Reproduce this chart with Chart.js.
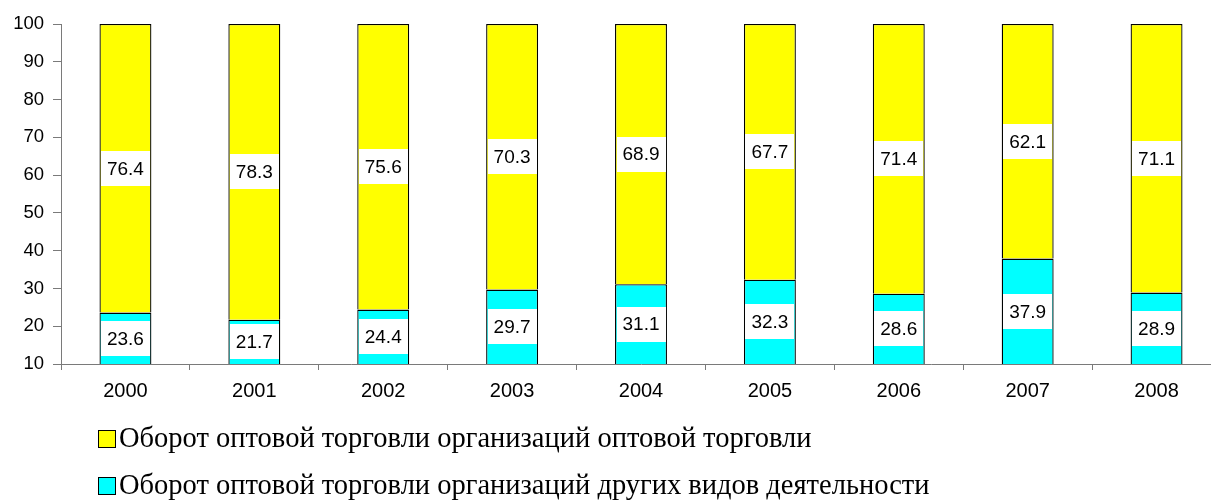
<!DOCTYPE html>
<html>
<head>
<meta charset="utf-8">
<script src="https://cdn.jsdelivr.net/npm/chart.js@4.4.1/dist/chart.umd.min.js"></script>
<style>
  html, body { margin: 0; padding: 0; background: #fff; overflow: hidden; }
  #wrap { width: 1211px; height: 500px; overflow: hidden; }
  canvas { display: block; }
</style>
</head>
<body>
<div id="wrap"><canvas id="c" width="1225" height="500"></canvas></div>
<script>
const years = ['2000', '2001', '2002', '2003', '2004', '2005', '2006', '2007', '2008'];
const otherOrgValues = [23.6, 21.7, 24.4, 29.7, 31.1, 32.3, 28.6, 37.9, 28.9];
const wholesaleOrgValues = [76.4, 78.3, 75.6, 70.3, 68.9, 67.7, 71.4, 62.1, 71.1];
const seriesNames = [
  'Оборот оптовой торговли организаций других видов деятельности',
  'Оборот оптовой торговли организаций оптовой торговли'
];
const yTicks = [10, 20, 30, 40, 50, 60, 70, 80, 90, 100];

const AXIS_COLOR = '#7a7a7a';

const labelBoxes = {
  id: 'labelBoxes',
  afterDatasetsDraw(chart) {
    const ctx = chart.ctx;
    const area = chart.chartArea;
    ctx.save();
    ctx.font = '19px "Liberation Sans", Arial, sans-serif';
    ctx.textAlign = 'center';
    ctx.textBaseline = 'middle';
    chart.data.datasets.forEach((ds, di) => {
      const meta = chart.getDatasetMeta(di);
      meta.data.forEach((bar, i) => {
        const top = Math.max(Math.min(bar.y, bar.base), area.top);
        const bottom = Math.min(Math.max(bar.y, bar.base), area.bottom);
        const cy = (top + bottom) / 2;
        const cx = bar.x;
        const txt = ds.data[i].toFixed(1);
        const w = ctx.measureText(txt).width + 12;
        const h = 35;
        ctx.fillStyle = '#ffffff';
        ctx.fillRect(Math.round(cx - w / 2), Math.round(cy - h / 2), Math.round(w), h);
        ctx.fillStyle = '#000000';
        ctx.fillText(txt, cx, cy + 1);
      });
    });
    ctx.restore();
  }
};

const bottomLegend = {
  id: 'bottomLegend',
  afterDraw(chart) {
    const ctx = chart.ctx;
    const area = chart.chartArea;
    const items = chart.data.datasets.map(d => ({ text: d.label, color: d.backgroundColor })).reverse();
    ctx.save();
    ctx.font = '28.5px "Liberation Serif", "Times New Roman", serif';
    ctx.textBaseline = 'middle';
    ctx.textAlign = 'left';
    items.forEach((it, k) => {
      const cy = area.bottom + 75 + k * 47;
      const bx = area.left + 37;
      ctx.fillStyle = it.color;
      ctx.fillRect(bx, cy - 9, 18, 18);
      ctx.strokeStyle = '#000';
      ctx.lineWidth = 1;
      ctx.strokeRect(bx + 0.5, cy - 8.5, 17, 17);
      ctx.fillStyle = '#000';
      ctx.fillText(it.text, bx + 21, cy + 1);
    });
    ctx.restore();
  }
};

new Chart(document.getElementById('c'), {
  type: 'bar',
  data: {
    labels: years,
    datasets: [
      {
        label: seriesNames[0],
        data: otherOrgValues,
        backgroundColor: '#00FFFF',
        borderColor: '#000000',
        borderWidth: 1.3,
        borderSkipped: false,
        categoryPercentage: 1,
        barPercentage: 0.403,
        clip: { left: 0, top: 2, right: 0, bottom: 0 }
      },
      {
        label: seriesNames[1],
        data: wholesaleOrgValues,
        backgroundColor: '#FFFF00',
        borderColor: '#000000',
        borderWidth: 1.3,
        borderSkipped: 'start',
        categoryPercentage: 1,
        barPercentage: 0.403,
        clip: { left: 0, top: 2, right: 0, bottom: 0 }
      }
    ]
  },
  options: {
    responsive: false,
    animation: false,
    layout: { padding: { left: 0, right: 4, top: 24, bottom: 100 } },
    plugins: {
      legend: { display: false },
      tooltip: { enabled: false },
      title: { display: false }
    },
    scales: {
      x: {
        stacked: true,
        offset: true,
        grid: { display: true, drawOnChartArea: false, drawTicks: true, tickLength: 6, color: AXIS_COLOR, offset: true },
        border: { display: true, color: AXIS_COLOR, width: 1 },
        ticks: { color: '#000', font: { family: 'Liberation Sans, Arial, sans-serif', size: 20 }, padding: 9, maxRotation: 0, autoSkip: false },
        afterFit(s) { s.height = 36; }
      },
      y: {
        stacked: true,
        min: 10,
        max: 100,
        afterBuildTicks(s) { s.ticks = yTicks.map(v => ({ value: v })); },
        grid: { display: true, drawOnChartArea: false, drawTicks: true, tickLength: 8, color: AXIS_COLOR },
        border: { display: true, color: AXIS_COLOR, width: 1 },
        ticks: { color: '#000', font: { family: 'Liberation Sans, Arial, sans-serif', size: 18.5 }, padding: 9 },
        afterFit(s) { s.width = 61; }
      }
    }
  },
  plugins: [labelBoxes, bottomLegend]
});
</script>
</body>
</html>
